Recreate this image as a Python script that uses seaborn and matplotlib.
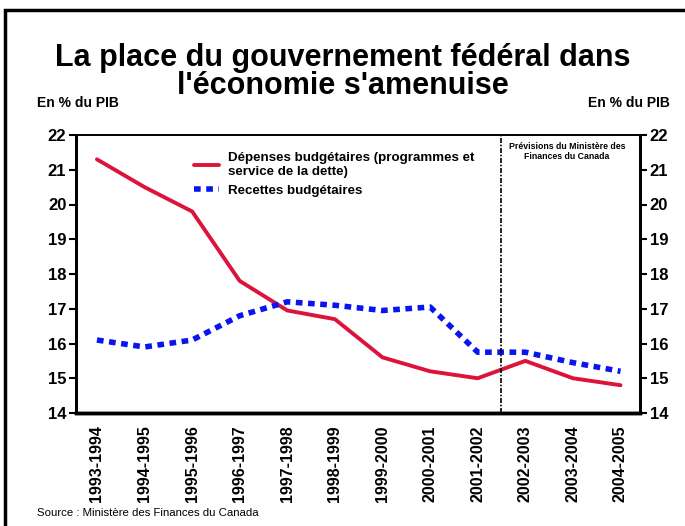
import numpy as np
import pandas as pd
import matplotlib
matplotlib.use("Agg")
import matplotlib.pyplot as plt
import seaborn as sns
from matplotlib.patches import Rectangle

years = ["1993-1994", "1994-1995", "1995-1996", "1996-1997", "1997-1998", "1998-1999",
         "1999-2000", "2000-2001", "2001-2002", "2002-2003", "2003-2004", "2004-2005"]
depenses = [21.3, 20.5, 19.8, 17.8, 16.95, 16.7, 15.6, 15.2, 15.0, 15.5, 15.0, 14.8]
recettes = [16.1, 15.9, 16.1, 16.8, 17.2, 17.1, 16.95, 17.05, 15.75, 15.75, 15.45, 15.2]
y_ticks = [14, 15, 16, 17, 18, 19, 20, 21, 22]

lab_dep = "Dépenses budgétaires (programmes et\nservice de la dette)"
lab_rec = "Recettes budgétaires"

df = pd.DataFrame({"x": np.arange(len(years)), "dep": depenses, "rec": recettes})

sns.set_style("white")
plt.rcParams['font.family'] = ['Liberation Sans', 'DejaVu Sans']
plt.rcParams['text.color'] = 'black'
plt.rcParams['xtick.color'] = 'black'
plt.rcParams['ytick.color'] = 'black'

fig = plt.figure(figsize=(6.85, 5.26), dpi=100)
ax = fig.add_axes([76 / 685, 1 - 413 / 526, (640 - 76) / 685, (413 - 135) / 526])

sns.lineplot(data=df, x="x", y="dep", ax=ax, color="#dc143c", lw=2.8, label=lab_dep)
sns.lineplot(data=df, x="x", y="rec", ax=ax, color="#0a14f0", lw=4, label=lab_rec,
             linestyle=(0, (1.2, 1.0)))

# début des prévisions
ax.axvline(8.5, color="black", lw=1.2, linestyle=(0, (3, 1, 1, 1)))

ax.set_xlim(-0.44, 11.41)
ax.set_ylim(14, 22)
ax.set_xticks(df["x"])
ax.set_xticklabels(years, rotation=90, fontweight="bold", fontsize=11.5)
ax.tick_params(axis="x", length=0, pad=9)
ax.set_yticks(y_ticks)
ax.set_yticklabels(y_ticks, fontweight="bold", fontsize=12)
ax.tick_params(axis="y", direction="out", length=5, width=1.5, left=True, pad=2)
ax.set_xlabel("")
ax.set_ylabel("")

ax2 = ax.twinx()
ax2.set_ylim(14, 22)
ax2.set_yticks(y_ticks)
ax2.set_yticklabels(y_ticks, fontweight="bold", fontsize=12)
ax2.tick_params(axis="y", direction="out", length=5, width=1.5, right=True, pad=2)

for a in (ax, ax2):
    a.spines["top"].set_linewidth(1.2)
    a.spines["left"].set_linewidth(2)
    a.spines["right"].set_linewidth(2)
    a.spines["bottom"].set_linewidth(2.5)
    for s in a.spines.values():
        s.set_color("black")

leg = ax.legend(loc="upper left", bbox_to_anchor=(0.197, 0.962), frameon=False,
                prop={"weight": "bold", "size": 9.6}, handlelength=1.9,
                labelspacing=0.45, handletextpad=0.7, borderpad=0)
for t in leg.get_texts():
    t.set_linespacing(1.25)

ax.text(9.88, 21.8, "Prévisions du Ministère des\nFinances du Canada", ha="center", va="top",
        fontsize=6.3, fontweight="bold", linespacing=1.1)

fig.text(0.5, 1 - 58 / 526, "La place du gouvernement fédéral dans",
         ha="center", va="center", fontsize=22, fontweight="bold")
fig.text(0.5, 1 - 86 / 526, "l'économie s'amenuise",
         ha="center", va="center", fontsize=22, fontweight="bold")
fig.text(37 / 685, 1 - 103 / 526, "En % du PIB", ha="left", va="center", fontsize=10, fontweight="bold")
fig.text(670 / 685, 1 - 103 / 526, "En % du PIB", ha="right", va="center", fontsize=10, fontweight="bold")
fig.text(37 / 685, 1 - 513 / 526, "Source : Ministère des Finances du Canada", ha="left", va="center", fontsize=8.2)

fig.patches.append(Rectangle((5 / 685, -0.1), 1.2, 1.1 - 10 / 526, transform=fig.transFigure,
                             fill=False, edgecolor="black", lw=2.5))

fig.savefig("out.png", dpi=100)
